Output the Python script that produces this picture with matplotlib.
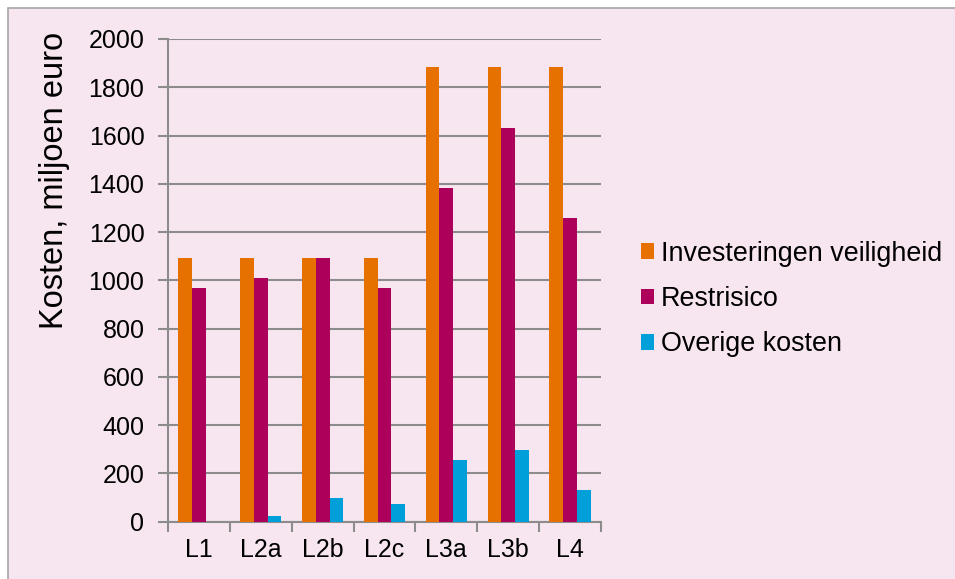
import numpy as np
import matplotlib
matplotlib.use("Agg")
import matplotlib.pyplot as plt
from matplotlib.patches import Rectangle, Patch

plt.rcParams['font.family'] = ['Liberation Sans', 'DejaVu Sans']

# data
categories = ["L1", "L2a", "L2b", "L2c", "L3a", "L3b", "L4"]
investeringen = [1093, 1093, 1093, 1093, 1885, 1885, 1885]
restrisico = [970, 1008, 1093, 970, 1383, 1630, 1257]
overige = [0, 22, 100, 75, 257, 297, 133]
series_names = ["Investeringen veiligheid", "Restrisico", "Overige kosten"]
colors = ["#E67000", "#AD005B", "#009FDA"]
bg = "#F7E6EF"

fig = plt.figure(figsize=(9.55, 5.79), dpi=100, facecolor="white")
# chart area background with grey border (top/left visible)
fig.patches.append(Rectangle((8 / 955, -0.1), 1.2, 1 - 8 / 579 + 0.1,
                             transform=fig.transFigure, facecolor=bg,
                             edgecolor="#A6A6A6", linewidth=1.2, zorder=-10))

ax = fig.add_axes([168 / 955, 1 - 521.7 / 579, (601 - 168) / 955, (521.7 - 39) / 579])
ax.set_facecolor(bg)

x = np.arange(len(categories))
w = 0.222
for i, (vals, c) in enumerate(zip([investeringen, restrisico, overige], colors)):
    ax.bar(x + (i - 1) * w, vals, width=w, color=c, label=series_names[i], zorder=3)

ax.set_xlim(-0.5, len(categories) - 0.5)
ax.set_ylim(0, 2000)
ax.set_yticks(np.arange(0, 2001, 200))
ax.set_xticks(x)
ax.set_xticklabels(categories)
ax.set_xticks(np.arange(-0.5, len(categories)), minor=True)
ax.tick_params(axis="x", which="major", length=0, pad=12, labelsize=18)
ax.tick_params(axis="x", which="minor", length=7, width=1.5, color="#8C8C8C")
ax.tick_params(axis="y", length=7, width=1.5, color="#8C8C8C", labelsize=18, pad=10)
ax.yaxis.grid(True, color="#8C8C8C", linewidth=1.5, zorder=0)
ax.set_axisbelow(True)
for s in ["top", "right"]:
    ax.spines[s].set_visible(False)
for s in ["left", "bottom"]:
    ax.spines[s].set_color("#8C8C8C")
    ax.spines[s].set_linewidth(1.5)

# y label sits high, as in the original
fig.text(54 / 955, 1 - 180 / 579, "Kosten, miljoen euro", fontsize=23.5,
         rotation=90, ha="center", va="center")

handles = [Patch(facecolor=c) for c in colors]
fig.legend(handles, series_names, loc="center left",
           bbox_to_anchor=(641 / 955, 1 - 299 / 579), frameon=False,
           fontsize=19.4, handlelength=0.5, handleheight=0.5,
           handletextpad=0.25, labelspacing=0.72, borderpad=0, borderaxespad=0)

fig.savefig("out.png", dpi=100, facecolor=fig.get_facecolor())
